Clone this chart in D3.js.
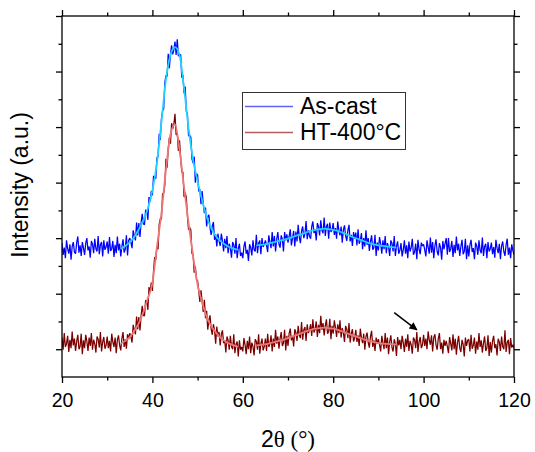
<!DOCTYPE html>
<html>
<head>
    <title>XRD patterns</title>
    <meta charset="utf-8">
    <script src="https://d3js.org/d3.v7.min.js"></script>
    <style>
        body {
            margin: 0;
            background: #fff;
            font-family: "Liberation Sans", Arial, sans-serif;
        }
        .tick text {
            font-family: "Liberation Sans", Arial, sans-serif;
            font-size: 19.5px;
            fill: #000;
        }
        .tick line {
            stroke: #000;
            stroke-width: 1.3;
        }
        .raw {
            fill: none;
            stroke-width: 1.25;
            stroke-linejoin: bevel;
        }
        .fit {
            fill: none;
            stroke-width: 1.8;
        }
        .title {
            font-size: 23px;
            fill: #000;
            text-anchor: middle;
        }
        .legendText {
            font-size: 23px;
            fill: #000;
        }
    </style>
</head>
<body>
<script>
    // DATA //
    // measured patterns, 2theta from 20 to 120 in 0.25 deg steps
    var thetaStart = 20;
    var thetaStep = 0.25;

    var asCast = [
        191,170,183,164,196,181,172,189,161,185,193,175,172,192,203,174,187,168,193,182,
        170,191,200,178,185,165,195,189,173,199,181,176,204,171,188,193,167,196,179,184,
        194,172,202,177,181,195,166,188,173,203,178,190,167,185,198,174,180,205,169,196,
        200,192,182,214,204,196,228,205,227,202,228,244,226,224,251,249,233,274,266,285,
        277,312,311,307,345,347,388,377,415,429,433,480,493,491,532,506,532,547,531,539,
        554,530,558,528,529,531,489,494,461,473,429,423,384,385,382,343,335,347,300,316,
        314,284,288,261,285,262,245,255,221,239,242,219,206,222,229,197,207,185,208,195,
        186,208,195,176,199,182,204,173,190,182,165,193,188,172,200,164,181,190,168,174,
        164,185,194,172,179,159,189,183,169,196,179,176,206,173,191,196,171,200,184,189,
        196,187,175,205,193,182,211,185,204,176,198,211,189,183,205,198,176,211,196,207,
        192,203,216,187,200,213,185,212,194,224,202,191,213,221,200,208,231,198,214,204,
        199,221,230,209,216,196,227,221,205,232,214,209,237,204,221,226,199,228,211,215,
        227,206,218,199,230,214,205,221,192,215,223,204,195,214,224,194,206,186,211,199,
        210,187,216,190,196,209,180,200,185,214,188,200,177,194,205,179,183,206,168,192,
        178,202,190,172,196,180,204,173,191,184,168,196,191,176,204,168,185,194,172,178,
        191,167,179,196,172,187,164,194,176,183,199,170,175,190,162,197,180,171,192,186,
        189,179,167,196,184,172,201,174,193,164,186,198,176,169,191,183,161,195,180,190,
        200,170,200,175,181,195,166,188,173,203,178,190,168,185,197,171,176,199,162,187,
        167,188,197,175,182,162,192,186,170,196,178,173,201,168,185,190,164,193,176,181,
        192,171,184,165,197,182,173,190,162,186,194,176,168,188,199,170,183,164,189,178,
        170
    ];

    var ht400 = [
        21,-1,29,4,10,24,-5,17,2,32,7,19,-3,14,26,0,5,28,-9,16,
        2,26,14,-3,21,6,29,-1,17,10,-6,23,18,3,31,-4,13,22,1,7,
        23,2,15,-4,28,13,4,21,-7,17,25,7,-2,19,31,4,18,1,27,18,
        29,22,12,44,35,27,59,36,58,34,60,78,61,60,88,87,71,112,103,120,
        105,141,166,161,185,180,225,235,234,280,281,296,343,327,361,381,370,407,397,405,
        424,386,389,357,376,345,319,319,274,282,274,239,215,219,215,172,171,138,149,126,
        123,105,85,106,87,67,89,56,69,35,53,61,36,26,45,34,10,41,23,31,
        7,27,34,11,16,-6,23,16,-1,24,5,0,27,-7,9,14,-13,16,-1,4,
        -4,20,8,-9,15,0,23,-7,12,5,-11,18,14,-1,27,-8,10,19,-2,5,
        19,-3,28,4,10,25,-4,19,4,35,10,23,1,19,31,6,11,35,-2,24,
        6,28,37,16,24,5,36,30,15,42,25,20,49,17,35,40,15,45,29,34,
        45,24,54,30,36,50,22,44,29,60,35,47,25,42,54,28,32,55,18,42,
        28,52,39,22,45,29,52,21,38,30,13,42,36,20,47,12,28,36,14,20,
        35,13,25,6,37,21,11,28,-1,23,30,12,3,23,33,4,16,-3,21,10,
        18,8,-4,24,12,0,29,2,21,-9,13,25,3,-4,18,10,-12,22,7,17,
        0,24,12,-5,19,4,27,-3,15,8,-8,21,17,2,31,-5,13,22,2,8,
        26,6,19,0,32,17,8,25,-4,21,27,8,-1,19,29,0,12,-8,17,6,
        15,5,-7,22,10,-2,27,0,19,-10,12,24,2,-5,17,9,-13,21,6,16,
        18,-4,26,1,7,21,-8,14,-1,29,4,16,-6,11,23,-3,2,25,-12,13,
        -6,15,24,2,9,-11,19,13,-3,23,5,0,34,-5,12,17,-9,20,3,8,
        2
    ];

    // fitted curves (main peak and broad halo)
    var fitPeakTheta = d3.range(33, 60);
    var asCastFitPeak = [181,186,193,202,216,232,254,286,335,409,486,530,544,530,470,398,341,302,268,239,218,204,195,189,184,181,179];
    var ht400FitPeak = [10,15,22,33,47,67,92,119,184,245,323,387,405,359,292,227,168,116,85,58,42,31,21,15,10,7,4];

    var fitHumpTheta = d3.range(63, 95);
    var asCastFitHump = [187,188,189,191,193,195,197,199,202,205,207,210,213,215,216,217,216,215,213,210,207,203,200,197,194,191,189,187,186,185,184,183];
    var ht400FitHump = [7,8,9,11,13,15,17,20,23,26,29,32,35,37,38,39,38,37,35,32,29,26,23,20,17,15,13,11,10,9.5,9,8.5];

    var xTicks = [20, 40, 60, 80, 100, 120];
    var xMinorTicks = [30, 50, 70, 90, 110];
    var yTicks = [0, 100, 200, 300, 400, 500, 600];
    var yMinorTicks = [50, 150, 250, 350, 450, 550];

    var seriesNames = ['As-cast', 'HT-400°C'];
    var arrowPts = [[93.5, 66], [98.5, 35]];

    // COLOURS //
    var rawColors = ['#0000ff', '#7a0000'];
    var fitColors = ['#1fd3ff', '#f07575'];
    var legendColors = ['#6262f6', '#b45c5c'];

    // CANVAS //
    var W = 535, H = 452;
    var plot = {left: 62, right: 514, top: 16, bottom: 377};

    var canvas = d3.select('body').append('svg')
        .attr('width', W)
        .attr('height', H);

    var x = d3.scaleLinear().domain([20, 120]).range([plot.left, plot.right]);
    var y = d3.scaleLinear().domain([-50, 600]).range([plot.bottom, plot.top]);

    canvas.append('clipPath').attr('id', 'clip')
        .append('rect')
        .attr('x', plot.left).attr('y', plot.top)
        .attr('width', plot.right - plot.left)
        .attr('height', plot.bottom - plot.top);

    // AXES //
    function noDomain(g) { g.select('.domain').remove(); }

    canvas.append('g')
        .attr('transform', 'translate(0,' + plot.bottom + ')')
        .call(d3.axisBottom(x).tickValues(xTicks).tickSize(6).tickPadding(10).tickFormat(d3.format('d')))
        .call(noDomain);
    canvas.append('g')
        .attr('transform', 'translate(0,' + plot.bottom + ')')
        .call(d3.axisBottom(x).tickValues(xMinorTicks).tickSize(3.5).tickFormat(''))
        .call(noDomain);
    canvas.append('g')
        .attr('transform', 'translate(0,' + plot.top + ')')
        .call(d3.axisTop(x).tickValues(xTicks).tickSize(6).tickFormat(''))
        .call(noDomain);
    canvas.append('g')
        .attr('transform', 'translate(0,' + plot.top + ')')
        .call(d3.axisTop(x).tickValues(xMinorTicks).tickSize(3.5).tickFormat(''))
        .call(noDomain);

    canvas.append('g')
        .attr('transform', 'translate(' + plot.left + ',0)')
        .call(d3.axisLeft(y).tickValues(yTicks).tickSize(6).tickFormat(''))
        .call(noDomain);
    canvas.append('g')
        .attr('transform', 'translate(' + plot.left + ',0)')
        .call(d3.axisLeft(y).tickValues(yMinorTicks).tickSize(3.5).tickFormat(''))
        .call(noDomain);
    canvas.append('g')
        .attr('transform', 'translate(' + plot.right + ',0)')
        .call(d3.axisRight(y).tickValues(yTicks).tickSize(6).tickFormat(''))
        .call(noDomain);
    canvas.append('g')
        .attr('transform', 'translate(' + plot.right + ',0)')
        .call(d3.axisRight(y).tickValues(yMinorTicks).tickSize(3.5).tickFormat(''))
        .call(noDomain);

    // PATTERNS //
    var rawLine = d3.line()
        .x(function(d, i) { return x(thetaStart + i * thetaStep); })
        .y(function(d) { return y(d); });

    var data = canvas.append('g').attr('clip-path', 'url(#clip)');

    [asCast, ht400].forEach(function(s, k) {
        data.append('path')
            .attr('class', 'raw')
            .attr('d', rawLine(s))
            .attr('stroke', rawColors[k]);
    });

    function fitLine(thetas) {
        return d3.line()
            .curve(d3.curveMonotoneX)
            .x(function(d, i) { return x(thetas[i]); })
            .y(function(d) { return y(d); });
    }

    var fits = [
        [fitPeakTheta, asCastFitPeak, 0],
        [fitHumpTheta, asCastFitHump, 0],
        [fitPeakTheta, ht400FitPeak, 1],
        [fitHumpTheta, ht400FitHump, 1]
    ];
    fits.forEach(function(f) {
        data.append('path')
            .attr('class', 'fit')
            .attr('d', fitLine(f[0])(f[1]))
            .attr('stroke', fitColors[f[2]]);
    });

    // ARROW //
    canvas.append('defs').append('marker')
        .attr('id', 'head')
        .attr('viewBox', '0 0 10 10')
        .attr('refX', 9).attr('refY', 5)
        .attr('markerWidth', 10).attr('markerHeight', 8)
        .attr('markerUnits', 'userSpaceOnUse')
        .attr('orient', 'auto')
        .append('path').attr('d', 'M0,0 L10,5 L0,10 Z').attr('fill', '#000');

    canvas.append('line')
        .attr('x1', x(arrowPts[0][0])).attr('y1', y(arrowPts[0][1]))
        .attr('x2', x(arrowPts[1][0])).attr('y2', y(arrowPts[1][1]))
        .attr('stroke', '#000')
        .attr('stroke-width', 1.5)
        .attr('marker-end', 'url(#head)');

    // FRAME //
    canvas.append('rect')
        .attr('x', plot.left).attr('y', plot.top)
        .attr('width', plot.right - plot.left)
        .attr('height', plot.bottom - plot.top)
        .attr('fill', 'none')
        .attr('stroke', '#000')
        .attr('stroke-width', 1.3);

    // TITLES //
    var xt = canvas.append('text')
        .attr('class', 'title')
        .attr('x', (plot.left + plot.right) / 2)
        .attr('y', 447);
    xt.append('tspan').text('2');
    xt.append('tspan').style('font-family', '"Liberation Serif", "Times New Roman", serif').text('θ (°)');

    canvas.append('text')
        .attr('class', 'title')
        .attr('transform', 'translate(28,185) rotate(-90)')
        .text('Intensity (a.u.)');

    // LEGEND //
    var legend = canvas.append('g');
    legend.append('rect')
        .attr('x', 242.5).attr('y', 92.5)
        .attr('width', 163).attr('height', 57)
        .attr('fill', '#fff')
        .attr('stroke', '#333')
        .attr('stroke-width', 1);

    seriesNames.forEach(function(name, k) {
        var ly = 106.5 + k * 26;
        legend.append('line')
            .attr('x1', 245).attr('x2', 293)
            .attr('y1', ly).attr('y2', ly)
            .attr('stroke', legendColors[k])
            .attr('stroke-width', 1.5);
        legend.append('text')
            .attr('class', 'legendText')
            .attr('x', 300)
            .attr('y', ly + 7.5)
            .text(name);
    });
</script>
</body>
</html>
